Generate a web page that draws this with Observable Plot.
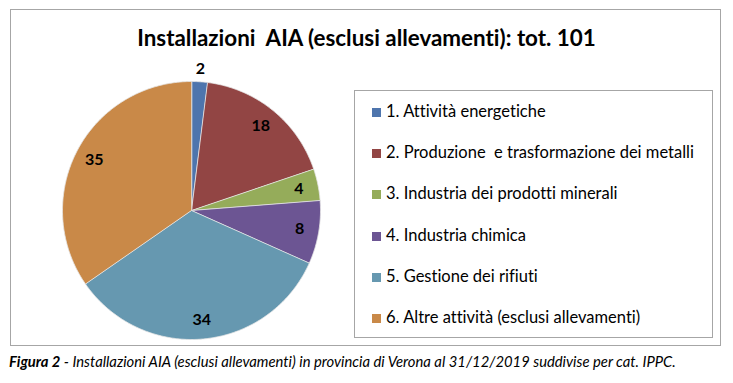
<!DOCTYPE html>
<html>
<head>
<meta charset="utf-8">
<script src="https://cdn.jsdelivr.net/npm/d3@7"></script>
<script src="https://cdn.jsdelivr.net/npm/@observablehq/plot@0.6"></script>
<style>
  html, body { margin: 0; padding: 0; background: #fff; }
  #wrap { position: relative; width: 733px; height: 383px; overflow: hidden; font-family: Lato, "Open Sans", sans-serif; font-variant-ligatures: none; font-feature-settings: "liga" 0, "clig" 0; }
  #frame { position: absolute; left: 10px; top: 9px; width: 711px; height: 337px; border: 1px solid #a6a6a6; box-sizing: border-box; }
  #title { position: absolute; left: 0; width: 733px; top: 24px; text-align: center; font-weight: bold; font-size: 22.4px; color: #000; white-space: pre; box-sizing: border-box; }
  #chart { position: absolute; left: 0; top: 0; }
  #legend { position: absolute; left: 354px; top: 90px; width: 359px; height: 248px; border: 1px solid #a6a6a6; box-sizing: border-box; }
  .item { position: absolute; left: 17px; font-size: 16.5px; color: #000; white-space: pre; line-height: 18px; }
  .sw { display: inline-block; width: 9px; height: 9px; margin-right: 5px; vertical-align: 0px; }
  #caption { position: absolute; left: 9px; top: 352px; font-size: 14.8px; font-style: italic; color: #000; white-space: pre; }
</style>
</head>
<body>
<div id="wrap">
  <div id="frame"></div>
  <div id="title"></div>
  <div id="chart"></div>
  <div id="legend"></div>
  <div id="caption"></div>
</div>
<script>
const title = "Installazioni  AIA (esclusi allevamenti): tot. 101";
const categories = [
  "1. Attività energetiche",
  "2. Produzione  e trasformazione dei metalli",
  "3. Industria dei prodotti minerali",
  "4. Industria chimica",
  "5. Gestione dei rifiuti",
  "6. Altre attività (esclusi allevamenti)"
];
const values = [2, 18, 4, 8, 34, 35];
const colors = ["#4e75ad", "#924544", "#95ac5a", "#6c5593", "#6698b0", "#c98948"];
const captionBold = "Figura 2";
const captionText = " - Installazioni AIA (esclusi allevamenti) in provincia di Verona al 31/12/2019 suddivise per cat. IPPC.";

document.getElementById("title").textContent = title;
const cap = document.getElementById("caption");
const b = document.createElement("b"); b.textContent = captionBold; cap.appendChild(b);
cap.appendChild(document.createTextNode(captionText));

// legend
const legend = document.getElementById("legend");
categories.forEach((c, i) => {
  const d = document.createElement("div");
  d.className = "item";
  d.style.top = (11 + i * 41.2) + "px";
  const s = document.createElement("span");
  s.className = "sw"; s.style.background = colors[i];
  d.appendChild(s);
  d.appendChild(document.createTextNode(c));
  legend.appendChild(d);
});

// pie geometry via d3.pie
const data = categories.map((c, i) => ({cat: c, value: values[i]}));
const arcs = d3.pie().sort(null).value(d => d.value)(data);
const pts = [];
arcs.forEach(a => {
  pts.push({cat: a.data.cat, x: 0, y: 0});
  const n = Math.max(2, Math.ceil((a.endAngle - a.startAngle) / 0.01));
  for (let k = 0; k <= n; k++) {
    const t = a.startAngle + (a.endAngle - a.startAngle) * k / n;
    pts.push({cat: a.data.cat, x: Math.sin(t), y: Math.cos(t)});
  }
});
const total = d3.sum(values);
const labels = arcs.map(a => {
  const m = (a.startAngle + a.endAngle) / 2;
  const r = a.data.value / total < 0.03 ? 1.1 : 0.85;
  return {label: String(a.data.value), x: r * Math.sin(m), y: r * Math.cos(m)};
});

const cx = 191, cy = 210, R = 129;
const plot = Plot.plot({
  width: 733,
  height: 383,
  margin: 0,
  x: {domain: [-1, 1], range: [cx - R, cx + R], axis: null},
  y: {domain: [-1, 1], range: [cy + R, cy - R], axis: null},
  color: {domain: categories, range: colors},
  style: {background: "transparent", overflow: "visible"},
  marks: [
    Plot.line(pts, {x: "x", y: "y", z: "cat", fill: "cat", stroke: "#e6e6e6", strokeWidth: 0.8, curve: "linear-closed"}),
    Plot.text(labels, {x: "x", y: "y", text: "label", fontWeight: "bold", fontSize: 16, fill: "#000", fontFamily: "Lato, sans-serif"})
  ]
});
document.getElementById("chart").appendChild(plot);
</script>
</body>
</html>
